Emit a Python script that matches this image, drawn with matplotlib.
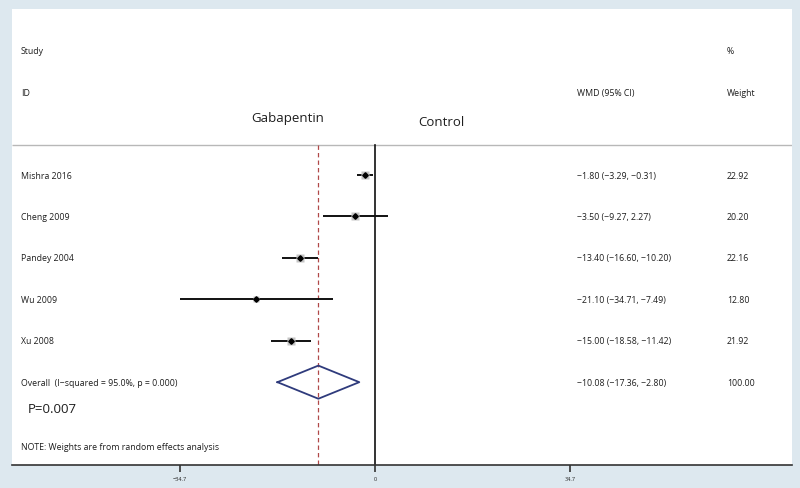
import matplotlib
matplotlib.use("Agg")
import matplotlib.pyplot as plt
from matplotlib.transforms import blended_transform_factory
import numpy as np

studies = ["Mishra 2016", "Cheng 2009", "Pandey 2004", "Wu 2009", "Xu 2008"]
wmd = [-1.80, -3.50, -13.40, -21.10, -15.00]
lo = [-3.29, -9.27, -16.60, -34.71, -18.58]
hi = [-0.31, 2.27, -10.20, -7.49, -11.42]
weights = [22.92, 20.20, 22.16, 12.80, 21.92]
ci_text = ["\u22121.80 (\u22123.29, \u22120.31)", "\u22123.50 (\u22129.27, 2.27)",
           "\u221213.40 (\u221216.60, \u221210.20)", "\u221221.10 (\u221234.71, \u22127.49)",
           "\u221215.00 (\u221218.58, \u221211.42)"]
weight_text = ["22.92", "20.20", "22.16", "12.80", "21.92"]
overall = -10.08
overall_lo = -17.36
overall_hi = -2.80
overall_label = "Overall  (I\u2212squared = 95.0%, p = 0.000)"
overall_ci_text = "\u221210.08 (\u221217.36, \u22122.80)"
overall_weight = "100.00"
tick_vals = [-34.7, 0, 34.7]
tick_labels = ["\u221234.7", "0", "34.7"]

plt.rcParams['font.family'] = ['Open Sans', 'DejaVu Sans']

W, H = 800, 489
fig = plt.figure(figsize=(8, 4.89), dpi=100, facecolor="#dde8ef")
ax = fig.add_axes([12 / W, 1 - 466 / H, 780 / W, 456 / H])
ax.set_facecolor("white")
px_per_unit = 195 / 34.7
ax.set_xlim((12 - 375) / px_per_unit, (792 - 375) / px_per_unit)
ax.set_ylim(7.0, -4.01)

for s in ["top", "left", "right"]:
    ax.spines[s].set_visible(False)
ax.spines["bottom"].set_color("#333333")
ax.spines["bottom"].set_linewidth(1.2)
ax.set_yticks([])
ax.set_xticks(tick_vals)
ax.set_xticklabels(tick_labels, fontsize=4, color="#222222")
ax.tick_params(axis="x", direction="out", length=5, width=1.2, color="#333333", pad=3)

ax.plot([ax.get_xlim()[0], ax.get_xlim()[1]], [-0.72, -0.72], color="#b8b8b8", lw=1.0, solid_capstyle="butt")
ax.plot([0, 0], [-0.72, 7.0], color="#111111", lw=1.2)
ax.plot([overall, overall], [-0.72, 7.0], color="#b04848", lw=0.9, ls=(0, (3.5, 2.5)))

rows = np.arange(len(studies))
for i in rows:
    ax.plot([lo[i], hi[i]], [i, i], color="#111111", lw=1.4, solid_capstyle="butt")
    ax.plot(wmd[i], i, marker="s", ms=np.sqrt(weights[i]) * 1.2, color="#c4c4c4", mec="none")
    ax.plot(wmd[i], i, marker="D", ms=2.8, color="black")

oy = len(studies)
dx = [overall_lo, overall, overall_hi, overall, overall_lo]
dy = [oy, oy - 0.4, oy, oy + 0.4, oy]
ax.plot(dx, dy, color="#2f3b7c", lw=1.3)

tr = blended_transform_factory(fig.transFigure, ax.transData)
fs = 6.3
tc = "#1e1e1e"
def t(x, y, s, size=fs):
    ax.text(x / W, y, s, transform=tr, fontsize=size, va="center", ha="left", color=tc)

t(21, -3.0, "Study")
t(21, -2.0, "ID")
t(577, -2.0, "WMD (95% CI)")
t(727, -2.0, "Weight")
t(727, -3.0, "%")
t(251, -1.4, "Gabapentin", 9.5)
t(418, -1.3, "Control", 9.5)

for i in rows:
    t(21, i, studies[i])
    t(577, i, ci_text[i])
    t(727, i, weight_text[i])

t(21, oy, overall_label)
t(577, oy, overall_ci_text)
t(727, oy, overall_weight)

t(28, 5.63, "P=0.007", 9.5)
t(21, 6.55, "NOTE: Weights are from random effects analysis")

fig.savefig("out.png", dpi=100, facecolor=fig.get_facecolor())
